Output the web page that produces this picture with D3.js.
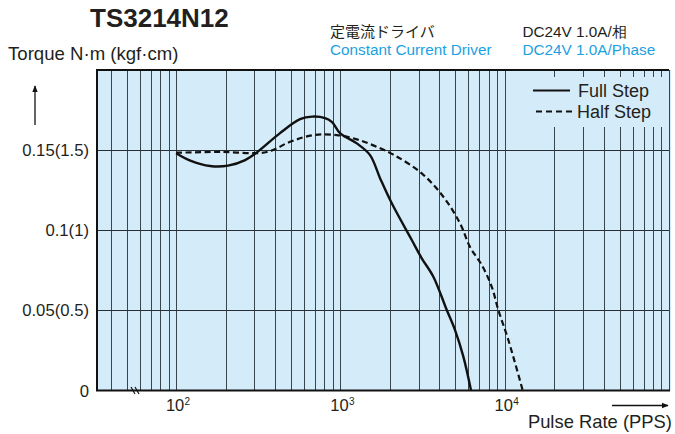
<!DOCTYPE html>
<html>
<head>
<meta charset="utf-8">
<script src="https://cdn.jsdelivr.net/npm/d3@7"></script>
<style>
  body { margin: 0; background: #fff; }
  text { font-family: "Liberation Sans", Arial, sans-serif; fill: #231f20; }
</style>
</head>
<body>
<svg id="chart" width="675" height="434"></svg>
<script>
// pulse rate (pps) / torque (N·m)
var fullPps = [100, 122, 161, 207, 263, 313, 429, 568, 672, 807, 890, 995, 1258, 1515, 1743, 2054, 2719, 3127, 3679, 4440, 4986, 5602, 6240];
var fullTorque = [0.1481, 0.1435, 0.1401, 0.1403, 0.1438, 0.1489, 0.1606, 0.1693, 0.1709, 0.1700, 0.1675, 0.1606, 0.1542, 0.1469, 0.1325, 0.1168, 0.0939, 0.0825, 0.0710, 0.0502, 0.0377, 0.0211, 0];
var halfPps = [100, 185, 356, 494, 685, 951, 1258, 1626, 2151, 3127, 4232, 5348, 6152, 7252, 8340, 9148, 10525, 12877];
var halfTorque = [0.1484, 0.1489, 0.1488, 0.1552, 0.1594, 0.1594, 0.1567, 0.1525, 0.1466, 0.1355, 0.1209, 0.1043, 0.0895, 0.0783, 0.0647, 0.0502, 0.0315, 0];

var xDomain = [33, 100000];
var yDomain = [0, 0.2];
var yTicks = [0, 0.05, 0.1, 0.15];
var yTickLabels = ["0", "0.05(0.5)", "0.1(1)", "0.15(1.5)"];
var xTicks = [100, 1000, 10000];
var xTickSup = ["2", "3", "4"];

var svg = d3.select("#chart");
var pLeft = 97, pRight = 669, pTop = 70, pBottom = 390.5;

var x = d3.scaleLog().domain(xDomain).range([pLeft, pRight]);
var y = d3.scaleLinear().domain(yDomain).range([pBottom, pTop]);

// plot background
svg.append("rect")
  .attr("x", pLeft).attr("y", pTop)
  .attr("width", pRight - pLeft + 2).attr("height", pBottom - pTop)
  .attr("fill", "#d4ecf9");

// vertical grid
svg.append("g").selectAll("line")
  .data(x.ticks())
  .enter().append("line")
  .attr("x1", function (d) { return Math.round(x(d)) + 0.5; })
  .attr("x2", function (d) { return Math.round(x(d)) + 0.5; })
  .attr("y1", pTop).attr("y2", pBottom)
  .attr("stroke", "#39454d")
  .attr("stroke-width", 1);

// horizontal grid
svg.append("g").selectAll("line")
  .data(yTicks.slice(1))
  .enter().append("line")
  .attr("x1", pLeft).attr("x2", pRight)
  .attr("y1", function (d) { return Math.round(y(d)) + 0.5; })
  .attr("y2", function (d) { return Math.round(y(d)) + 0.5; })
  .attr("stroke", "#2a2f33")
  .attr("stroke-width", 1);

// legend box hides the grid behind it
svg.append("rect")
  .attr("x", 530).attr("y", 77)
  .attr("width", 134).attr("height", 50)
  .attr("fill", "#d4ecf9");

// frame: left, top, bottom
svg.append("path")
  .attr("d", "M" + pRight + "," + pTop + "H" + pLeft + "V" + pBottom + "H" + (pRight + 1))
  .attr("fill", "none")
  .attr("stroke", "#111")
  .attr("stroke-width", 2);

// axis break mark
[0, 4].forEach(function (o) {
  svg.append("line")
    .attr("x1", 131 + o).attr("y1", 387)
    .attr("x2", 135 + o).attr("y2", 394)
    .attr("stroke", "#111").attr("stroke-width", 1.2);
});

var line = d3.line()
  .x(function (d) { return x(d[0]); })
  .y(function (d) { return y(d[1]); })
  .curve(d3.curveCatmullRom.alpha(0.5));

svg.append("path")
  .datum(d3.zip(halfPps, halfTorque))
  .attr("d", line)
  .attr("fill", "none")
  .attr("stroke", "#111")
  .attr("stroke-width", 2.2)
  .attr("stroke-dasharray", "6,3.5");

svg.append("path")
  .datum(d3.zip(fullPps, fullTorque))
  .attr("d", line)
  .attr("fill", "none")
  .attr("stroke", "#111")
  .attr("stroke-width", 2.4);

// y tick labels
svg.append("g").selectAll("text")
  .data(yTicks)
  .enter().append("text")
  .attr("x", 89)
  .attr("y", function (d) { return y(d) + 6; })
  .attr("text-anchor", "end")
  .style("font-size", "16.7px")
  .text(function (d, i) { return yTickLabels[i]; });

// x tick labels, 10 with superscript exponent
var xt = svg.append("g").selectAll("g")
  .data(xTicks)
  .enter().append("g");
xt.append("text")
  .attr("x", function (d) { return x(d) - 1; })
  .attr("y", 411)
  .attr("text-anchor", "middle")
  .style("font-size", "16.5px")
  .text("10");
xt.append("text")
  .attr("x", function (d) { return x(d) + 8.5; })
  .attr("y", 405)
  .style("font-size", "10px")
  .text(function (d, i) { return xTickSup[i]; });

// legend
svg.append("line")
  .attr("x1", 533).attr("x2", 570).attr("y1", 90.5).attr("y2", 90.5)
  .attr("stroke", "#111").attr("stroke-width", 2.2);
svg.append("line")
  .attr("x1", 536).attr("x2", 574).attr("y1", 111.5).attr("y2", 111.5)
  .attr("stroke", "#111").attr("stroke-width", 2.2)
  .attr("stroke-dasharray", "6,4");
svg.append("text").attr("x", 578).attr("y", 96.5)
  .style("font-size", "18px").text("Full Step");
svg.append("text").attr("x", 577).attr("y", 117.5)
  .style("font-size", "18px").text("Half Step");

// titles
svg.append("text").attr("x", 90).attr("y", 27)
  .style("font-size", "26px").style("font-weight", "bold")
  .text("TS3214N12");
svg.append("text").attr("x", 8).attr("y", 60)
  .style("font-size", "18.6px")
  .text("Torque N·m (kgf·cm)");
svg.append("text").attr("x", 330).attr("y", 36.5)
  .style("font-size", "15px")
  .style("font-family", "'Noto Sans CJK JP', sans-serif")
  .text("定電流ドライバ");
svg.append("text").attr("x", 330).attr("y", 55)
  .style("font-size", "15.3px").style("fill", "#1ba1e2")
  .text("Constant Current Driver");
svg.append("text").attr("x", 522.5).attr("y", 36.5)
  .style("font-size", "15.3px")
  .text("DC24V 1.0A/相");
svg.append("text").attr("x", 522.5).attr("y", 55)
  .style("font-size", "15.3px").style("fill", "#1ba1e2")
  .text("DC24V 1.0A/Phase");
svg.append("text").attr("x", 672).attr("y", 428)
  .attr("text-anchor", "end")
  .style("font-size", "18.4px")
  .text("Pulse Rate (PPS)");

// axis arrows
svg.append("defs").append("marker")
  .attr("id", "head")
  .attr("viewBox", "0 0 10 10")
  .attr("refX", 9).attr("refY", 5)
  .attr("markerWidth", 7).attr("markerHeight", 7)
  .attr("markerUnits", "userSpaceOnUse")
  .attr("orient", "auto")
  .append("path").attr("d", "M0,1L10,5L0,9Z").attr("fill", "#111");
svg.append("line")
  .attr("x1", 35).attr("y1", 125).attr("x2", 35).attr("y2", 86)
  .attr("stroke", "#111").attr("stroke-width", 1.3)
  .attr("marker-end", "url(#head)");
svg.append("line")
  .attr("x1", 612).attr("y1", 405.5).attr("x2", 668).attr("y2", 405.5)
  .attr("stroke", "#111").attr("stroke-width", 1.3)
  .attr("marker-end", "url(#head)");
</script>
</body>
</html>
